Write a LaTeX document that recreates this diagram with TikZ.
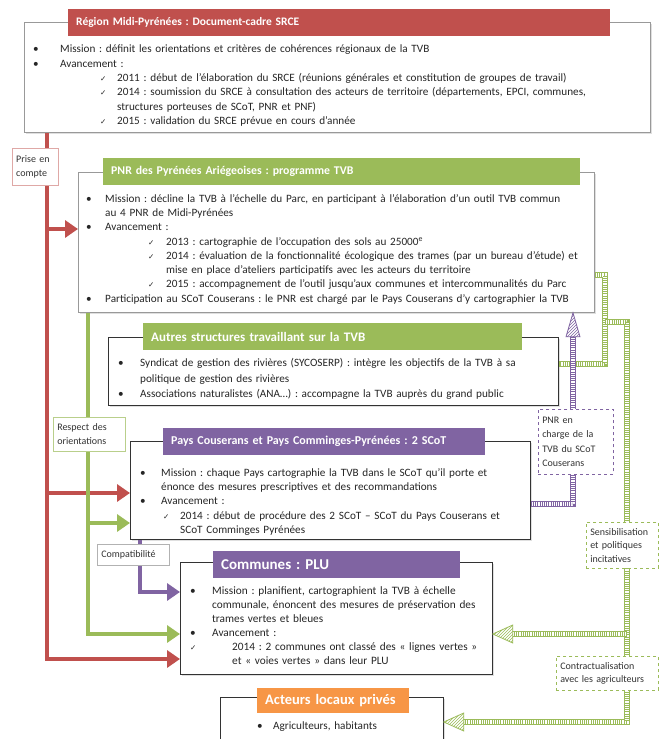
\documentclass[tikz,border=0pt]{standalone}
\usepackage{fontspec}
\setmainfont{Carlito}
\newfontfamily\symb{DejaVu Sans}
\usetikzlibrary{arrows.meta,patterns,shadows}

\definecolor{rougeC}{HTML}{C0504D}
\definecolor{vertC}{HTML}{9BBB59}
\definecolor{violetC}{HTML}{8064A2}
\definecolor{orangeC}{HTML}{F79646}

\setlength{\parindent}{0pt}
\frenchspacing
\newcommand{\puce}[1]{\makebox[#1][l]{•}}
\newcommand{\coch}[2]{\hspace*{#1}\makebox[#2][l]{{\symb\fontsize{7.5}{8}\selectfont ✓}}}

\begin{document}
\begin{tikzpicture}[x=1pt,y=-1pt,line join=miter]

            \tikzstyle{cadre}=[anchor=north west,inner sep=0pt,draw=black!80,fill=white,line width=0.8pt,drop shadow={opacity=0.25,shadow xshift=1.5pt,shadow yshift=-1.5pt}]
            \tikzstyle{titre}=[anchor=north west,inner xsep=8pt,inner ysep=0pt,minimum height=27pt,text=white,align=left,font=\bfseries\fontsize{11.5}{13}\selectfont]
            \tikzstyle{texte}=[anchor=north west,inner sep=0pt,align=left,text=black!85,font=\fontsize{11.2}{14.3}\selectfont]
            \tikzstyle{etiq}=[anchor=north west,fill=white,inner xsep=4pt,inner ysep=0pt,align=left,text=black!80,line width=0.5pt,font=\fontsize{10}{14.5}\selectfont]
            \tikzset{fleche/.style={draw=#1,line width=4.5pt,-{Triangle[length=13pt,width=17pt]}},
                     bande/.style={draw=#1,line width=6pt,postaction={draw=white,line width=4pt},postaction={draw=#1,line width=4pt,dash pattern=on 0.8pt off 1.4pt}},
                     tete/.style={draw=#1,line width=0.8pt,preaction={fill=white},pattern=north east lines,pattern color=#1}}

            \useasboundingbox (0,0) rectangle (660,739);
            \fill[white] (0,0) rectangle (660,739);

            \node[cadre,draw=black!40,minimum width=626pt,minimum height=110pt] (srce)   at (24,22)  {};
            \node[cadre,draw=black!40,minimum width=516pt,minimum height=140pt] (pnr)    at (78,172) {};
            \node[cadre,minimum width=450pt,minimum height=68pt]                (autres) at (108,337) {};
            \node[cadre,minimum width=400pt,minimum height=98pt]                (scot)   at (130,441) {};
            \node[cadre,minimum width=312pt,minimum height=112pt]               (plu)    at (180,562) {};
            \node[cadre,minimum width=223pt,minimum height=70pt]                (prives) at (220,697) {};

            \node[titre,fill=rougeC,text width=526pt]  (tsrce)   at (68,9)    {Région Midi-Pyrénées : Document-cadre SRCE};
            \node[titre,fill=vertC,text width=461pt,font=\bfseries\fontsize{11.8}{13}\selectfont] (tpnr) at (103,158) {PNR des Pyrénées Ariégeoises : programme TVB};
            \node[titre,fill=vertC,text width=363pt,font=\bfseries\fontsize{13}{14}\selectfont] (tautres) at (143,323) {Autres structures travaillant sur la TVB};
            \node[titre,fill=violetC,text width=306pt,font=\bfseries\fontsize{12}{14}\selectfont] (tscot) at (163,428) {Pays Couserans et Pays Comminges-Pyrénées : 2 SCoT};
            \node[titre,fill=violetC,text width=231pt,font=\bfseries\fontsize{15}{16}\selectfont] (tplu) at (213,551) {Communes : PLU};
            \node[titre,fill=orangeC,text width=136pt,minimum height=25pt,font=\bfseries\fontsize{14.5}{16}\selectfont] (tprives) at (257,688) {Acteurs locaux privés};

            \node[texte,text width=615pt] (xsrce) at (33,45) {%
              \puce{27pt}Mission : définit les orientations et critères de cohérences régionaux de la TVB\\
              \puce{27pt}Avancement :\\
              \coch{67pt}{17pt}2011 : début de l’élaboration du SRCE (réunions générales et constitution de groupes de travail)\\
              \coch{67pt}{17pt}2014 : soumission du SRCE à consultation des acteurs de territoire (départements, EPCI, communes,\\
              \hspace*{84pt}structures porteuses de SCoT, PNR et PNF)\\
              \coch{67pt}{17pt}2015 : validation du SRCE prévue en cours d’année};

            \node[texte,text width=505pt] (xpnr) at (86,194) {%
              \puce{19pt}Mission : décline la TVB à l’échelle du Parc, en participant à l’élaboration d’un outil TVB commun\\
              \hspace*{19pt}au 4 PNR de Midi-Pyrénées\\
              \puce{19pt}Avancement :\\
              \coch{62pt}{18pt}2013 : cartographie de l’occupation des sols au 25000\textsuperscript{e}\\
              \coch{62pt}{18pt}2014 : évaluation de la fonctionnalité écologique des trames (par un bureau d’étude) et\\
              \hspace*{80pt}mise en place d’ateliers participatifs avec les acteurs du territoire\\
              \coch{62pt}{18pt}2015 : accompagnement de l’outil jusqu’aux communes et intercommunalités du Parc\\
              \puce{19pt}Participation au SCoT Couserans : le PNR est chargé par le Pays Couserans d’y cartographier la TVB};

            \node[texte,text width=435pt,font=\fontsize{11.2}{15.8}\selectfont] (xautres) at (118,358) {%
              \puce{22pt}Syndicat de gestion des rivières (SYCOSERP) : intègre les objectifs de la TVB à sa\\
              \hspace*{22pt}politique de gestion des rivières\\
              \puce{22pt}Associations naturalistes (ANA…) : accompagne la TVB auprès du grand public};

            \node[texte,text width=385pt,font=\fontsize{11.2}{14.4}\selectfont] (xscot) at (140,468) {%
              \puce{21pt}Mission : chaque Pays cartographie la TVB dans le SCoT qu’il porte et\\
              \hspace*{21pt}énonce des mesures prescriptives et des recommandations\\
              \puce{21pt}Avancement :\\
              \coch{23pt}{17pt}2014 : début de procédure des 2 SCoT – SCoT du Pays Couserans et\\
              \hspace*{40pt}SCoT Comminges Pyrénées};

            \node[texte,text width=305pt,font=\fontsize{11.3}{14}\selectfont] (xplu) at (190,586) {%
              \puce{22pt}Mission : planifient, cartographient la TVB à échelle\\
              \hspace*{22pt}communale, énoncent des mesures de préservation des\\
              \hspace*{22pt}trames vertes et bleues\\
              \puce{22pt}Avancement :\\
              \coch{0pt}{42pt}2014 : 2 communes ont classé des « lignes vertes »\\
              \hspace*{42pt}et « voies vertes » dans leur PLU};

            \node[texte,text width=180pt] (xprives) at (257,722) {\puce{16pt}Agriculteurs, habitants};

            \coordinate (rA) at (47,229);
            \coordinate (rB) at (47,493);
            \coordinate (rC) at (47,659);
            \coordinate (gA) at (88,523);
            \coordinate (gB) at (88,634);
            \coordinate (vA) at (140,592);

            \draw[fleche=rougeC] (srce.south -| rA) -- (rC) -- (rC -| plu.west);
            \draw[fleche=rougeC] (rA) -- (rA -| pnr.west);
            \draw[fleche=rougeC] (rB) -- (rB -| scot.west);
            \draw[fleche=vertC] (pnr.south -| gA) -- (gB) -- (gB -| plu.west);
            \draw[fleche=vertC] (gA) -- (gA -| scot.west);
            \draw[fleche=violetC] (scot.south -| vA) -- (vA) -- (vA -| plu.west);

            \coordinate (h1) at (605,275);
            \coordinate (h2) at (605,364);
            \coordinate (h3) at (605,322);
            \coordinate (h4) at (627,322);
            \coordinate (h5) at (627,634);
            \coordinate (h6) at (627,722);
            \coordinate (p1) at (573,504);
            \coordinate (tP) at (prives.east |- h6);
            \coordinate (tL) at (plu.east |- h5);
            \coordinate (tC) at (pnr.south -| p1);

            \draw[bande=vertC] (pnr.east |- h1) -- (h1) -- (h2) -- (autres.east |- h2);
            \draw[bande=vertC] (h3) -- (h4) -- (h6) -- ([xshift=20pt]tP);
            \draw[bande=vertC] (h5) -- ([xshift=20pt]tL);
            \draw[bande=violetC] (scot.east |- p1) -- (p1) -- ([yshift=-24pt]tC);
            \filldraw[tete=vertC] (tP) -- ([xshift=20pt,yshift=9pt]tP) -- ([xshift=20pt,yshift=-9pt]tP) -- cycle;
            \filldraw[tete=vertC] (tL) -- ([xshift=20pt,yshift=9pt]tL) -- ([xshift=20pt,yshift=-9pt]tL) -- cycle;
            \filldraw[tete=violetC] (tC) -- ([xshift=-7pt,yshift=-24pt]tC) -- ([xshift=7pt,yshift=-24pt]tC) -- cycle;

            \node[etiq,draw=rougeC!50,text width=38pt,minimum height=37pt]  (prise)   at (12,148)  {Prise en\\compte};
            \node[etiq,draw=vertC!70,text width=64pt,minimum height=34pt]   (respect) at (53,417)  {Respect des\\orientations};
            \node[etiq,draw=black!30,text width=64pt,minimum height=21pt]   (compat)  at (97,544)  {Compatibilité};
            \node[etiq,draw=violetC,dashed,text width=67pt,minimum height=65pt] (charge)  at (538,409) {PNR en\\charge de la\\TVB du SCoT\\Couserans};
            \node[etiq,draw=vertC,dashed,text width=64pt,minimum height=46pt,font=\fontsize{10}{13.5}\selectfont] (sensib) at (586,522) {Sensibilisation\\et politiques\\incitatives};
            \node[etiq,draw=vertC,dashed,text width=94pt,minimum height=34pt,font=\fontsize{10}{13.5}\selectfont] (contrat) at (556,656) {Contractualisation\\avec les agriculteurs};
        \end{tikzpicture}
\end{document}
